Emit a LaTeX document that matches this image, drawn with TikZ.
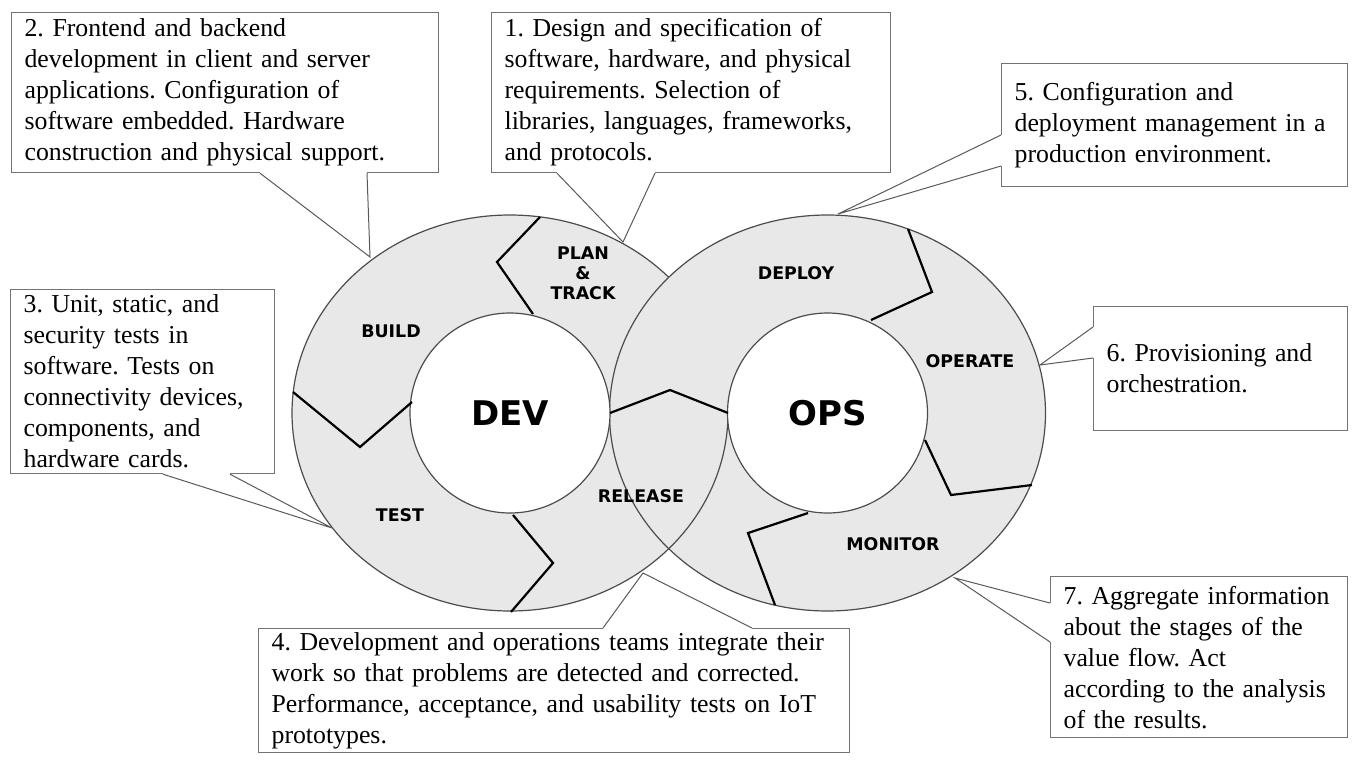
\documentclass[tikz,border=0pt]{standalone}
\usepackage{fontspec}
\setmainfont{Liberation Serif}
\newfontfamily\stagefont{DejaVu Sans}
\frenchspacing

\begin{document}
\begin{tikzpicture}[
  x=0.5pt, y=-0.5pt,
  ring/.style={draw=black!70, line width=0.6pt, fill=gray!18},
  rim/.style={draw=black!70, line width=0.6pt},
  hole/.style={circle, draw=black!70, line width=0.6pt, fill=white, minimum size=100pt, inner sep=0pt,
    font=\stagefont\bfseries\fontsize{17}{20}\selectfont},
  cut/.style={line width=1.1pt, line join=miter},
  stage/.style={font=\stagefont\bfseries\fontsize{8.7}{10}\selectfont, align=center, inner sep=0pt},
  callbox/.style={draw=black!55, line width=0.6pt, fill=white, anchor=north west, align=left,
    inner xsep=6.5pt, inner ysep=1pt, font=\fontsize{12.9}{15.5}\selectfont},
  gap/.style={white, line width=1.2pt},
  leg/.style={draw=black!65, line width=0.5pt}
]
\useasboundingbox (0,0) rectangle (1354,760);

\coordinate (devc) at (510,413);
\coordinate (opsc) at (827.5,413);

\draw[ring] (devc) ellipse [x radius=218, y radius=198];
\draw[ring] (opsc) ellipse [x radius=218, y radius=198];
\draw[rim] (devc) ++(43.3:218 and 198) arc [start angle=43.3, end angle=0, x radius=218, y radius=198];

\node[hole] (dev) at (devc) {DEV};
\node[hole] (ops) at (opsc) {OPS};

\draw[cut] (540,217) -- (497,262) -- (533,314);
\draw[cut] (293,392) -- (360,447) -- (412,402);
\draw[cut] (513,515) -- (553,563) -- (511,612);
\draw[cut] (610,413) -- (670,390) -- (728,413);
\draw[cut] (908,229) -- (932,292) -- (871,320);
\draw[cut] (925,440) -- (951,495) -- (1032,485);
\draw[cut] (808,513) -- (748,533) -- (775,605);

\node[stage] (plan) at (583,273) {PLAN\\\&\\TRACK};
\node[stage] (build) at (391,331) {BUILD};
\node[stage] (test) at (400,515) {TEST};
\node[stage] (release) at (641,496) {RELEASE};
\node[stage] (deploy) at (796,273) {DEPLOY};
\node[stage] (operate) at (970,361) {OPERATE};
\node[stage] (monitor) at (893,544) {MONITOR};

\node[callbox, text width=186.5pt, minimum height=80pt] (b1) at (491,12)
  {1. Design and specification of\\software, hardware, and physical\\requirements. Selection of\\libraries, languages, frameworks,\\and protocols.};
\node[callbox, text width=200.5pt, minimum height=80pt] (b2) at (11,12)
  {2. Frontend and backend\\development in client and server\\applications. Configuration of\\software embedded. Hardware\\construction and physical support.};
\node[callbox, text width=119pt, minimum height=92pt] (b3) at (10,289)
  {3. Unit, static, and\\security tests in\\software. Tests on\\connectivity devices,\\components, and\\hardware cards.};
\node[callbox, text width=282.5pt, minimum height=62pt] (b4) at (258,628)
  {4. Development and operations teams integrate their\\work so that problems are detected and corrected.\\Performance, acceptance, and usability tests on IoT\\prototypes.};
\node[callbox, text width=160pt, minimum height=61.5pt] (b5) at (1001,63)
  {5. Configuration and\\deployment management in a\\production environment.};
\node[callbox, text width=114pt, minimum height=62pt] (b6) at (1093,306)
  {6. Provisioning and\\orchestration.};
\node[callbox, text width=135.5pt, minimum height=80.5pt] (b7) at (1050,576)
  {7. Aggregate information\\about the stages of the\\value flow. Act\\according to the analysis\\of the results.};

\coordinate (tip1) at (623,242);
\coordinate (tip2) at (370,257);
\coordinate (tip3) at (332,528);
\coordinate (tip4) at (643,573);
\coordinate (tip5) at (838,214);
\coordinate (tip6) at (1040,365);
\coordinate (tip7) at (955,578);

\draw[gap] (557,0 |- b1.south) -- (655,0 |- b1.south);
\draw[leg] (557,0 |- b1.south) -- (tip1) -- (655,0 |- b1.south);
\draw[gap] (260,0 |- b2.south) -- (367,0 |- b2.south);
\draw[leg] (260,0 |- b2.south) -- (tip2) -- (367,0 |- b2.south);
\draw[gap] (163,0 |- b3.south) -- (230,0 |- b3.south);
\draw[leg] (163,0 |- b3.south) -- (tip3) -- (230,0 |- b3.south);
\draw[gap] (603,0 |- b4.north) -- (752,0 |- b4.north);
\draw[leg] (603,0 |- b4.north) -- (tip4) -- (752,0 |- b4.north);
\draw[gap] (b5.west |- 0,135) -- (b5.west |- 0,166);
\draw[leg] (b5.west |- 0,135) -- (tip5) -- (b5.west |- 0,166);
\draw[gap] (b6.west |- 0,327) -- (b6.west |- 0,358);
\draw[leg] (b6.west |- 0,327) -- (tip6) -- (b6.west |- 0,358);
\draw[gap] (b7.west |- 0,603) -- (b7.west |- 0,642);
\draw[leg] (b7.west |- 0,603) -- (tip7) -- (b7.west |- 0,642);
\end{tikzpicture}
\end{document}
